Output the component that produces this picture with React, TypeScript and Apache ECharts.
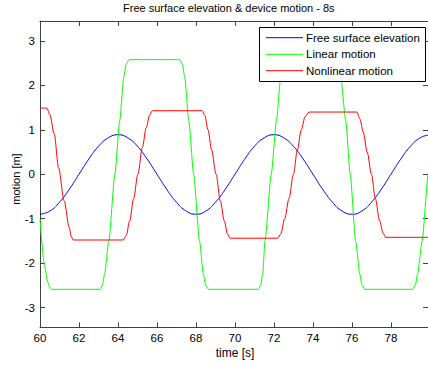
import React, { useEffect, useRef } from "react";
import * as echarts from "echarts";

// ---- data ----
const xTicks = [60, 62, 64, 66, 68, 70, 72, 74, 76, 78];
const yTicks = [-3, -2, -1, 0, 1, 2, 3];

const freeT = [
  60, 60.5, 61, 61.5, 62, 62.5, 63, 63.5, 64, 64.5, 65, 65.5, 66, 66.5, 67, 67.5,
  68, 68.5, 69, 69.5, 70, 70.5, 71, 71.5, 72, 72.5, 73, 73.5, 74, 74.5, 75, 75.5,
  76, 76.5, 77, 77.5, 78, 78.5, 79, 79.5, 80,
];
const freeV = [
  -0.9, -0.83, -0.63, -0.34, 0, 0.34, 0.63, 0.82, 0.89, 0.82, 0.63, 0.34, 0, -0.34, -0.63, -0.83,
  -0.9, -0.83, -0.63, -0.34, 0, 0.34, 0.63, 0.82, 0.89, 0.82, 0.63, 0.34, 0, -0.34, -0.63, -0.83,
  -0.9, -0.83, -0.63, -0.34, 0, 0.34, 0.63, 0.82, 0.89,
];

const linearT = [
  60, 60.22, 60.39, 60.5, 60.62,
  63.07, 63.2, 63.31, 63.53, 63.84, 64.09, 64.3, 64.42, 64.57,
  67.16, 67.3, 67.42, 67.63, 67.88, 68.18, 68.38, 68.5, 68.64,
  71.2, 71.32, 71.42, 71.54, 71.86, 72.13, 72.35, 72.47, 72.6,
  75.16, 75.3, 75.42, 75.68, 75.91, 76.19, 76.4, 76.52, 76.65,
  79.12, 79.25, 79.36, 79.6, 79.91, 80,
];
const linearV = [
  -1.01, -2.03, -2.42, -2.55, -2.59,
  -2.59, -2.5, -2.25, -1.5, 0, 1.21, 2.2, 2.48, 2.58,
  2.58, 2.48, 2.2, 1.21, 0, -1.5, -2.25, -2.5, -2.59,
  -2.59, -2.5, -2.25, -1.5, 0, 1.21, 2.2, 2.48, 2.58,
  2.58, 2.48, 2.2, 1.21, 0, -1.5, -2.25, -2.5, -2.59,
  -2.59, -2.5, -2.25, -1.5, 0, 0.45,
];

const nonlinearT = [
  60, 60.35, 60.5, 60.73, 60.95, 61.24, 61.5, 61.6, 61.7,
  64.26, 64.42, 64.6, 64.8, 65.02, 65.25, 65.45, 65.62, 65.76,
  68.32, 68.45, 68.62, 68.8, 69.03, 69.25, 69.45, 69.62, 69.75,
  72.2, 72.35, 72.55, 72.77, 73.0, 73.2, 73.4, 73.6, 73.8,
  76.26, 76.4, 76.58, 76.78, 77.0, 77.2, 77.42, 77.6, 77.72,
  80,
];
const nonlinearV = [
  1.49, 1.49, 1.35, 0.91, 0.15, -0.6, -1.2, -1.4, -1.48,
  -1.48, -1.38, -1.05, -0.55, 0, 0.6, 1.05, 1.33, 1.43,
  1.43, 1.33, 1.0, 0.55, 0, -0.6, -1.05, -1.35, -1.44,
  -1.44, -1.34, -1.0, -0.55, 0, 0.55, 1.0, 1.3, 1.4,
  1.4, 1.25, 0.95, 0.5, 0, -0.55, -1.05, -1.33, -1.42,
  -1.42,
];

const seriesNames = ["Free surface elevation", "Linear motion", "Nonlinear motion"];
const seriesColors = ["#0000ff", "#00ff00", "#ff0000"];

const zip = (t: number[], v: number[]) => t.map((x, i) => [x, v[i]]);

const FONT = "Liberation Sans, Arial, sans-serif";
const AXIS_COLOR = "#404040";

export default function App() {
  const ref = useRef<HTMLDivElement>(null);

  useEffect(() => {
    if (!ref.current) return;
    const chart = echarts.init(ref.current, null, { renderer: "svg" });

    const baseX = {
      type: "value" as const,
      min: 60,
      max: 79.9,
      splitLine: { show: false },
      axisLine: { show: true, onZero: false, lineStyle: { color: AXIS_COLOR, width: 1 } },
      axisTick: { show: true, inside: true, length: 5, customValues: xTicks, lineStyle: { color: AXIS_COLOR } },
    };
    const baseY = {
      type: "value" as const,
      min: -3.45,
      max: 3.45,
      splitLine: { show: false },
      axisLine: { show: true, onZero: false, lineStyle: { color: AXIS_COLOR, width: 1 } },
      axisTick: { show: true, inside: true, length: 5, customValues: yTicks, lineStyle: { color: AXIS_COLOR } },
    };

    const legendX = 259.5;
    const legendY = 27.5;
    const rowY = [37.7, 54.3, 70.7];

    chart.setOption({
      animation: false,
      backgroundColor: "#ffffff",
      title: {
        text: "Free surface elevation & device motion - 8s",
        left: 123,
        top: 2,
        padding: 0,
        textStyle: { fontFamily: FONT, fontSize: 11, fontWeight: "normal", color: "#000" },
      },
      grid: { left: 40, right: -2, top: 21, bottom: 39.5, containLabel: false },
      xAxis: [
        {
          ...baseX,
          position: "bottom",
          axisLabel: {
            show: true,
            customValues: xTicks,
            margin: 4,
            fontFamily: FONT,
            fontSize: 11.5,
            color: "#000",
          },
        },
        { ...baseX, position: "top", axisLabel: { show: false } },
      ],
      yAxis: [
        {
          ...baseY,
          position: "left",
          axisLabel: {
            show: true,
            customValues: yTicks,
            margin: 5,
            fontFamily: FONT,
            fontSize: 11.5,
            color: "#000",
          },
        },
        { ...baseY, position: "right", axisLabel: { show: false } },
      ],
      series: [
        {
          name: seriesNames[0],
          type: "line",
          data: zip(freeT, freeV),
          smooth: true,
          showSymbol: false,
          lineStyle: { color: seriesColors[0], width: 1 },
          itemStyle: { color: seriesColors[0] },
        },
        {
          name: seriesNames[1],
          type: "line",
          data: zip(linearT, linearV),
          smooth: 0.2,
          smoothMonotone: "x",
          showSymbol: false,
          lineStyle: { color: seriesColors[1], width: 1 },
          itemStyle: { color: seriesColors[1] },
        },
        {
          name: seriesNames[2],
          type: "line",
          data: zip(nonlinearT, nonlinearV),
          smooth: 0.3,
          smoothMonotone: "x",
          showSymbol: false,
          lineStyle: { color: seriesColors[2], width: 1 },
          itemStyle: { color: seriesColors[2] },
        },
      ],
      graphic: [
        {
          type: "text",
          x: 235,
          y: 353,
          style: {
            text: "time [s]",
            fontFamily: FONT,
            fontSize: 12,
            fill: "#000",
            align: "center",
            verticalAlign: "middle",
          },
        },
        {
          type: "text",
          x: 16,
          y: 179,
          rotation: Math.PI / 2,
          style: {
            text: "motion [m]",
            fontFamily: FONT,
            fontSize: 11,
            fill: "#000",
            align: "center",
            verticalAlign: "middle",
          },
        },
        {
          type: "group",
          z: 100,
          children: [
            {
              type: "rect",
              z: 100,
              shape: { x: legendX, y: legendY, width: 166, height: 54 },
              style: { fill: "#fff", stroke: "#000", lineWidth: 1 },
            },
            ...seriesNames.flatMap((name, i) => [
              {
                type: "line",
                z: 101,
                shape: { x1: 266, y1: rowY[i], x2: 303, y2: rowY[i] },
                style: { stroke: seriesColors[i], lineWidth: 1 },
              },
              {
                type: "text",
                z: 101,
                x: 306,
                y: rowY[i],
                style: {
                  text: name,
                  fontFamily: FONT,
                  fontSize: 11.5,
                  fill: "#000",
                  align: "left",
                  verticalAlign: "middle",
                },
              },
            ]),
          ],
        },
      ],
    });

    return () => chart.dispose();
  }, []);

  return (
    <div
      ref={ref}
      style={{ position: "fixed", left: 0, top: 0, width: 428, height: 367 }}
    />
  );
}
